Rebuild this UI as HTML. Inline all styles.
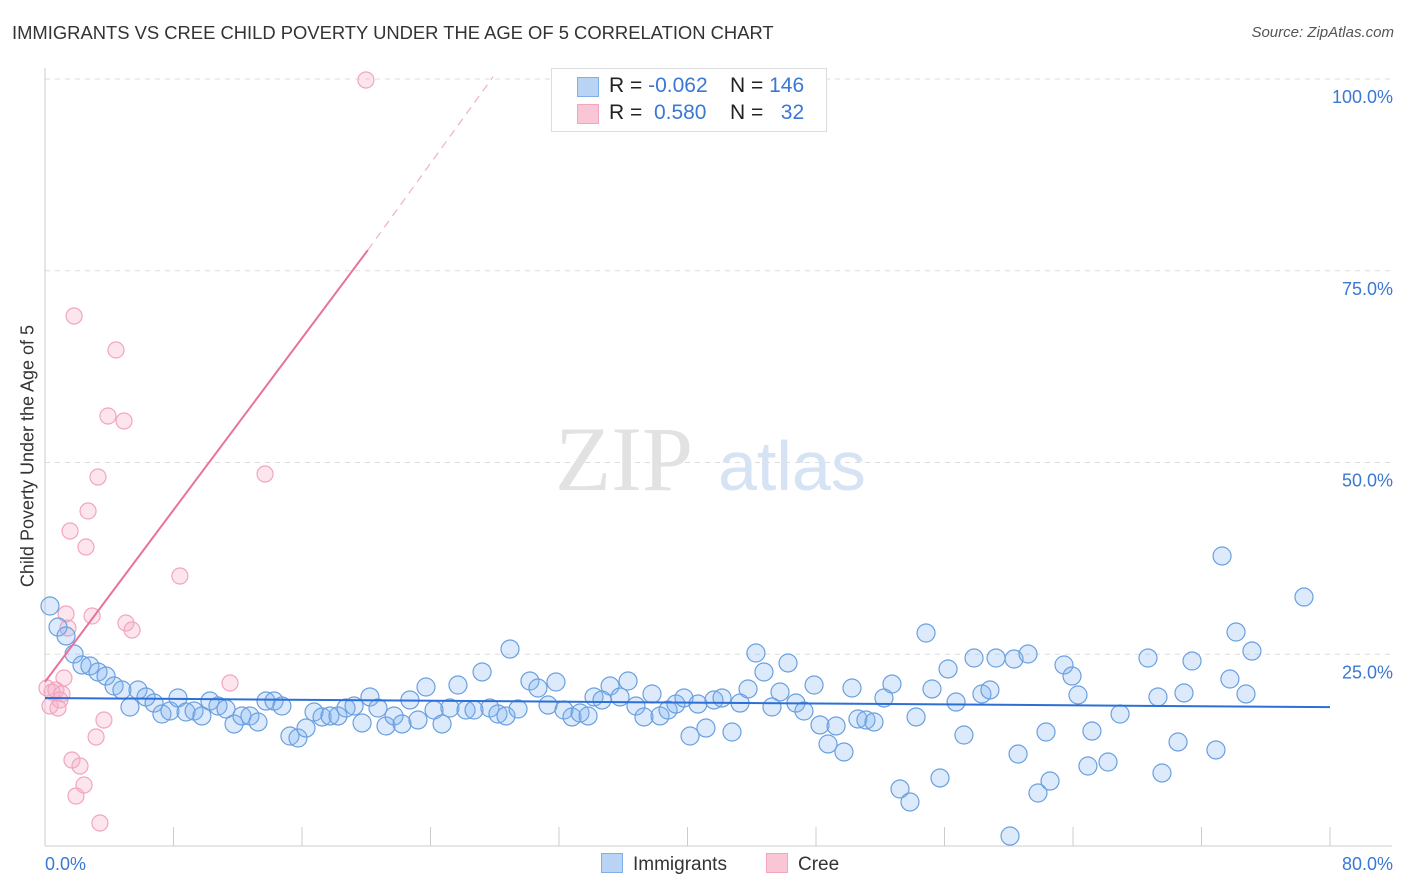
<!DOCTYPE html>
<html><head><meta charset="utf-8">
<style>
body{margin:0;background:#fff;font-family:"Liberation Sans",sans-serif;}
#wrap{position:relative;width:1406px;height:892px;overflow:hidden;}
.t{position:absolute;white-space:nowrap;}
</style></head><body>
<div id="wrap">
<div class="t" style="left:12px;top:22px;font-size:18.4px;color:#333;">IMMIGRANTS VS CREE CHILD POVERTY UNDER THE AGE OF 5 CORRELATION CHART</div>
<div class="t" style="right:12px;top:24px;font-size:15px;color:#555;font-style:italic;">Source: ZipAtlas.com</div>
<div class="t" style="left:28px;top:456px;font-size:18px;color:#333;transform:translate(-50%,-50%) rotate(-90deg);">Child Poverty Under the Age of 5</div>
<svg id="chart" width="1406" height="892" style="position:absolute;left:0;top:0"></svg>
<div class="t" style="left:551px;top:68px;width:274px;height:62px;border:1px solid #ddd;background:#fff;font-size:21px;">
 <div style="position:absolute;left:25px;top:8px;width:20px;height:18px;background:#b9d3f5;border:1px solid #7fb0ea;"></div>
 <div style="position:absolute;left:57px;top:5px;color:#222;">R = <span style="color:#3a78d4">-0.062</span></div>
 <div style="position:absolute;left:178px;top:5px;color:#222;">N = <span style="color:#3a78d4">146</span></div>
 <div style="position:absolute;left:25px;top:35px;width:20px;height:18px;background:#f9c6d5;border:1px solid #f3a7bf;"></div>
 <div style="position:absolute;left:57px;top:32px;color:#222;">R = &nbsp;<span style="color:#3a78d4">0.580</span></div>
 <div style="position:absolute;left:178px;top:32px;color:#222;">N = &nbsp;&nbsp;<span style="color:#3a78d4">32</span></div>
</div>
<div class="t" style="left:601px;top:853px;font-size:19px;color:#333;"><span style="display:inline-block;width:20px;height:18px;background:#b9d3f5;border:1px solid #7fb0ea;vertical-align:-3px;margin-right:10px;"></span>Immigrants</div>
<div class="t" style="left:766px;top:853px;font-size:19px;color:#333;"><span style="display:inline-block;width:20px;height:18px;background:#f9c6d5;border:1px solid #f3a7bf;vertical-align:-3px;margin-right:10px;"></span>Cree</div>
</div>
<script>
const yTicks=[25,50,75,100];
const yTickLabels=["25.0%","50.0%","75.0%","100.0%"];
const xTickLabels=["0.0%","80.0%"];
const bluePx=[[50,606],[58,627],[66,636],[74,654],[82,665],[90,666],[98,672],[106,676],[114,686],[122,690],[130,707],[138,690],[146,697],[154,703],[162,714],[170,711],[178,698],[186,712],[194,711],[202,716],[210,701],[218,706],[226,709],[234,724],[242,716],[250,716],[258,722],[266,701],[274,701],[282,706],[290,736],[298,738],[306,728],[314,712],[322,717],[330,716],[338,716],[346,708],[354,706],[362,723],[370,697],[378,708],[386,726],[394,716],[402,724],[410,700],[418,720],[426,687],[434,710],[442,724],[450,708],[458,685],[466,710],[474,710],[482,672],[490,708],[498,714],[506,716],[510,649],[518,709],[530,681],[538,688],[548,705],[556,682],[564,710],[572,717],[580,713],[588,716],[594,697],[602,700],[610,686],[620,697],[628,681],[636,706],[644,717],[652,694],[660,716],[668,710],[676,704],[684,698],[690,736],[698,704],[706,728],[714,700],[722,698],[732,732],[740,703],[748,689],[756,653],[764,672],[772,707],[780,692],[788,663],[796,703],[804,711],[814,685],[820,725],[828,744],[836,726],[844,752],[852,688],[858,719],[866,720],[874,722],[884,698],[892,684],[900,789],[910,802],[916,717],[926,633],[932,689],[940,778],[948,669],[956,702],[964,735],[974,658],[982,694],[990,690],[996,658],[1010,836],[1014,659],[1018,754],[1028,654],[1038,793],[1046,732],[1050,781],[1064,665],[1072,676],[1078,695],[1088,766],[1092,731],[1108,762],[1120,714],[1148,658],[1158,697],[1162,773],[1178,742],[1184,693],[1192,661],[1216,750],[1222,556],[1230,679],[1236,632],[1246,694],[1252,651],[1304,597]];
const pinkPx=[[47,688],[50,706],[52,692],[56,690],[58,708],[60,700],[62,694],[64,678],[66,614],[68,628],[70,531],[72,760],[74,316],[76,796],[80,766],[84,785],[86,547],[88,511],[92,616],[96,737],[98,477],[100,823],[104,720],[108,416],[116,350],[124,421],[126,623],[132,630],[180,576],[230,683],[265,474],[366,80]];
const X0=45,X1=1330,Y0=846,YS=7.67;
const toData=p=>[+((p[0]-X0)/(X1-X0)*80).toFixed(2),+((Y0-p[1])/YS).toFixed(2)];
const immX=bluePx.map(p=>toData(p)[0]), immY=bluePx.map(p=>toData(p)[1]);
const creeX=pinkPx.map(p=>toData(p)[0]), creeY=pinkPx.map(p=>toData(p)[1]);
const blueTrend=[[0,19.3],[80,18.1]];
const pinkTrend=[[0,21.4],[20.1,77.7],[27.9,100.3]];
const sx=v=>X0+v/80*(X1-X0), sy=v=>Y0-v*YS;
const svg=document.getElementById('chart');const NS='http://www.w3.org/2000/svg';
function mk(tag,attrs){const e=document.createElementNS(NS,tag);for(const k in attrs)e.setAttribute(k,attrs[k]);svg.appendChild(e);return e;}
yTicks.forEach((t,i)=>{
 const g=mk('line',{x1:45,x2:1392,y1:sy(t),y2:sy(t),stroke:'#ddd','stroke-dasharray':'5,5'});
 
 
 const tx=mk('text',{x:1393,y:sy(t)+24,'text-anchor':'end','font-size':18,fill:'#3a78d4','font-family':'Liberation Sans'});
 tx.textContent=yTickLabels[i];
 
 
});
const ax=mk('line',{x1:45,x2:45,y1:68,y2:846,stroke:'#ccc'});


const bx=mk('line',{x1:45,x2:1392,y1:846,y2:846,stroke:'#ccc'});


for(let i=0;i<=10;i++){const tk=mk('line',{x1:sx(i*8),x2:sx(i*8),y1:827,y2:846,stroke:'#ccc'});
 
 }
[[0,'start',45],[80,'end',1393]].forEach((d,i)=>{const t=mk('text',{x:d[2],y:870,'text-anchor':d[1],'font-size':18,fill:'#3a78d4','font-family':'Liberation Sans'});t.textContent=xTickLabels[i];
 
 });
const w1=mk('text',{x:555,y:490,'font-size':92,fill:'#e2e2e2','font-family':'Liberation Serif'});w1.textContent='ZIP';


const w2=mk('text',{x:718,y:490,'font-size':70,fill:'#d5e3f5','font-family':'Liberation Sans'});w2.textContent='atlas';


creeX.forEach((x,i)=>{const c=mk('circle',{cx:sx(x),cy:sy(creeY[i]),r:8,fill:'rgba(246,170,195,0.3)',stroke:'#f1a5c0','stroke-width':1.2});
 
 });
immX.forEach((x,i)=>{const c=mk('circle',{cx:sx(x),cy:sy(immY[i]),r:9,fill:'rgba(130,180,240,0.28)',stroke:'#6aa0e0','stroke-width':1.2});
 
 });
const bl=mk('line',{x1:sx(blueTrend[0][0]),y1:sy(blueTrend[0][1]),x2:sx(blueTrend[1][0]),y2:sy(blueTrend[1][1]),stroke:'#2d6fd6','stroke-width':2});


const pl=mk('line',{x1:sx(pinkTrend[0][0]),y1:sy(pinkTrend[0][1]),x2:sx(pinkTrend[1][0]),y2:sy(pinkTrend[1][1]),stroke:'#e8729b','stroke-width':2});


const pd=mk('line',{x1:sx(pinkTrend[1][0]),y1:sy(pinkTrend[1][1]),x2:sx(pinkTrend[2][0]),y2:sy(pinkTrend[2][1]),stroke:'#f0b0c6','stroke-width':1.2,'stroke-dasharray':'8,6'});


</script>
</body></html>
